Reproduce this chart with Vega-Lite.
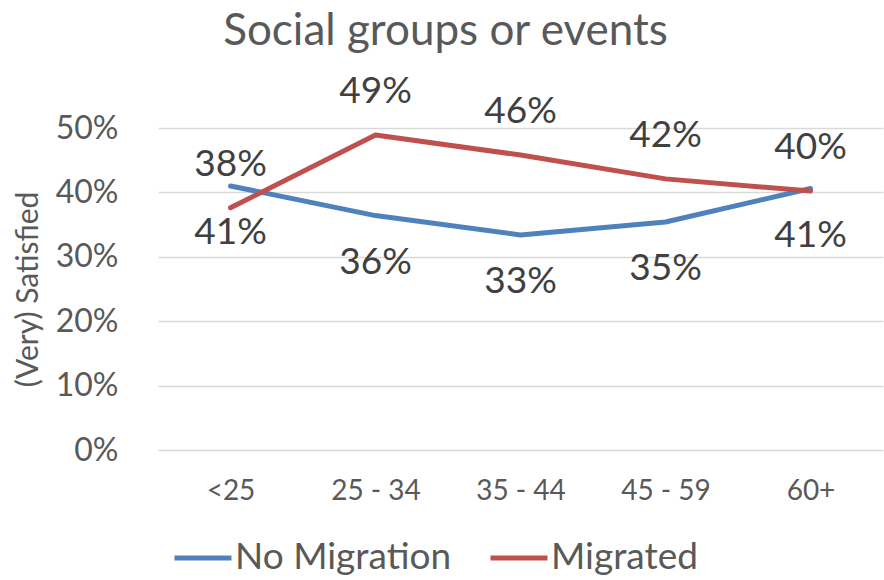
{
  "$schema": "https://vega.github.io/schema/vega-lite/v6.json",
  "width": 725,
  "height": 322,
  "autosize": {"type": "none"},
  "padding": {"left": 158, "top": 128, "right": 1, "bottom": 130},
  "background": "white",
  "config": {"font": "Lato", "view": {"stroke": null}},
  "title": {
    "text": "Social groups or events",
    "fontSize": 44,
    "fontWeight": "normal",
    "color": "#595959",
    "anchor": "middle",
    "dx": -75,
    "baseline": "alphabetic",
    "offset": -16
  },
  "data": {
    "values": [
      {"age": "<25", "series": "No Migration", "value": 0.410},
      {"age": "25 - 34", "series": "No Migration", "value": 0.364},
      {"age": "35 - 44", "series": "No Migration", "value": 0.334},
      {"age": "45 - 59", "series": "No Migration", "value": 0.354},
      {"age": "60+", "series": "No Migration", "value": 0.406},
      {"age": "<25", "series": "Migrated", "value": 0.376},
      {"age": "25 - 34", "series": "Migrated", "value": 0.489},
      {"age": "35 - 44", "series": "Migrated", "value": 0.458},
      {"age": "45 - 59", "series": "Migrated", "value": 0.421},
      {"age": "60+", "series": "Migrated", "value": 0.402}
    ]
  },
  "encoding": {
    "x": {
      "field": "age",
      "type": "nominal",
      "sort": ["<25", "25 - 34", "35 - 44", "45 - 59", "60+"],
      "scale": {"type": "point", "padding": 0.5},
      "axis": {
        "title": null,
        "labelAngle": 0,
        "labelFontSize": 28,
        "labelColor": "#595959",
        "labelPadding": 27,
        "ticks": false,
        "domain": false,
        "grid": false
      }
    },
    "y": {
      "field": "value",
      "type": "quantitative",
      "scale": {"domain": [0, 0.5], "nice": false},
      "axis": {
        "title": "(Very) Satisfied",
        "titleFontSize": 30,
        "titleFontWeight": "normal",
        "titleColor": "#595959",
        "titlePadding": 12,
        "format": ".0%",
        "values": [0, 0.1, 0.2, 0.3, 0.4, 0.5],
        "labelFontSize": 32,
        "labelColor": "#595959",
        "labelPadding": 40,
        "ticks": false,
        "domain": false,
        "grid": true,
        "gridColor": "#d9d9d9",
        "gridWidth": 1.5
      }
    }
  },
  "layer": [
    {
      "mark": {"type": "line", "strokeWidth": 5, "strokeCap": "round", "strokeJoin": "round"},
      "encoding": {
        "color": {
          "field": "series",
          "type": "nominal",
          "scale": {"domain": ["No Migration", "Migrated"], "range": ["#4F81BD", "#C0504D"]},
          "legend": {
            "title": null,
            "orient": "none",
            "direction": "horizontal",
            "legendX": 14,
            "legendY": 399,
            "symbolType": "stroke",
            "symbolSize": 3249,
            "symbolStrokeWidth": 5,
            "labelFontSize": 37,
            "labelColor": "#595959",
            "labelLimit": 400,
            "labelOffset": 1,
            "columnPadding": 28
          }
        }
      }
    },
    {
      "transform": [{"filter": "datum.series === 'Migrated'"}],
      "mark": {"type": "text", "fontSize": 37, "color": "#404040", "baseline": "middle", "dy": -43},
      "encoding": {"text": {"field": "value", "type": "quantitative", "format": ".0%"}}
    },
    {
      "transform": [{"filter": "datum.series === 'No Migration'"}],
      "mark": {"type": "text", "fontSize": 37, "color": "#404040", "baseline": "middle", "dy": 47},
      "encoding": {"text": {"field": "value", "type": "quantitative", "format": ".0%"}}
    }
  ]
}
